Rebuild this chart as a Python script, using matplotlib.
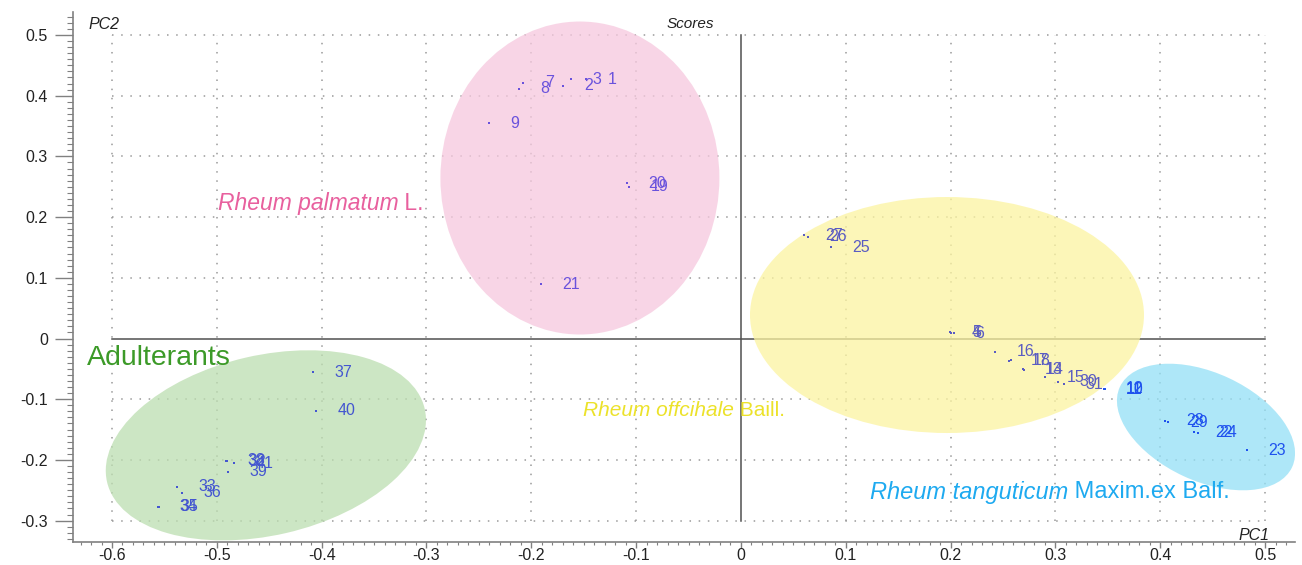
import numpy as np
import matplotlib
matplotlib.use("Agg")
import matplotlib.pyplot as plt
from matplotlib.patches import Ellipse
from matplotlib.transforms import ScaledTranslation
from matplotlib.ticker import MultipleLocator

plt.rcParams['font.family'] = ['Liberation Sans', 'DejaVu Sans']

# ---------------- data ----------------
palmatum_ids = ["1", "2", "3", "7", "8", "9", "19", "20", "21"]
palmatum_pc1 = [-0.148, -0.170, -0.1625, -0.2077, -0.2118, -0.2402, -0.1066, -0.109, -0.1911]
palmatum_pc2 = [0.427, 0.416, 0.4275, 0.4214, 0.4115, 0.3545, 0.250, 0.2557, 0.0893]

officinale_ids = ["4", "5", "6", "13", "14", "15", "16", "17", "18", "25", "26", "27", "30", "31"]
officinale_pc1 = [0.1995, 0.2005, 0.2030, 0.2694, 0.2700, 0.2901, 0.2424, 0.2560, 0.2575,
                  0.0859, 0.0642, 0.0601, 0.3028, 0.3085]
officinale_pc2 = [0.0099, 0.0094, 0.0087, -0.0507, -0.0515, -0.0639, -0.0217, -0.0366, -0.0358,
                  0.1502, 0.1677, 0.1705, -0.0712, -0.0750]

tanguticum_ids = ["10", "11", "12", "22", "23", "24", "28", "29"]
tanguticum_pc1 = [0.3464, 0.3466, 0.3470, 0.4323, 0.4825, 0.4361, 0.4046, 0.4078]
tanguticum_pc2 = [-0.0832, -0.0834, -0.0830, -0.1545, -0.1837, -0.1552, -0.1354, -0.1381]

adulterant_ids = ["32", "33", "34", "35", "36", "37", "38", "39", "40", "41"]
adulterant_pc1 = [-0.4905, -0.5379, -0.5560, -0.5550, -0.5334, -0.4081, -0.4917, -0.4898, -0.4055, -0.4838]
adulterant_pc2 = [-0.2025, -0.2446, -0.2771, -0.2775, -0.2540, -0.0552, -0.2018, -0.2199, -0.1194, -0.2056]

x_ticks = [-0.6, -0.5, -0.4, -0.3, -0.2, -0.1, 0, 0.1, 0.2, 0.3, 0.4, 0.5]
x_ticklabels = ["-0.6", "-0.5", "-0.4", "-0.3", "-0.2", "-0.1", "0", "0.1", "0.2", "0.3", "0.4", "0.5"]
y_ticks = [-0.3, -0.2, -0.1, 0, 0.1, 0.2, 0.3, 0.4, 0.5]
y_ticklabels = ["-0.3", "-0.2", "-0.1", "0", "0.1", "0.2", "0.3", "0.4", "0.5"]

# ---------------- figure ----------------
fig = plt.figure(figsize=(13.02, 5.65), dpi=100)
ax_bottom_px = 542
ax = fig.add_axes([73/1302, 1-ax_bottom_px/565, (1295-73)/1302, (ax_bottom_px-12)/565])
ax.set_xlim(-0.6372, 0.5286)
ax.set_ylim(-(ax_bottom_px-338.5)/607, 0.5379)

for s in ["top", "right"]:
    ax.spines[s].set_visible(False)
for s in ["left", "bottom"]:
    ax.spines[s].set_color("#808080")
    ax.spines[s].set_linewidth(1.2)

ax.set_xticks(x_ticks)
ax.set_xticklabels(x_ticklabels)
ax.set_yticks(y_ticks)
ax.set_yticklabels(y_ticklabels)
ax.xaxis.set_minor_locator(MultipleLocator(0.01))
ax.yaxis.set_minor_locator(MultipleLocator(0.01))
ax.tick_params(axis="x", which="major", length=4, width=1, color="#808080",
               labelsize=11.5, pad=0.5, labelcolor="#222222")
ax.tick_params(axis="x", which="minor", length=2, width=0.8, color="#808080")
ax.tick_params(axis="y", which="major", length=13, width=1, color="#808080",
               labelsize=11.5, pad=5, labelcolor="#222222")
ax.tick_params(axis="y", which="minor", length=4.3, width=0.8, color="#808080")

# dotted grid box
gx0, gx1, gy0, gy1 = -0.6, 0.5, -0.3, 0.5
for xv in x_ticks:
    if xv != 0:
        ax.plot([xv, xv], [gy0, gy1], color="#9a9a9a", lw=1.1, ls=(0, (1, 5)), zorder=1)
for yv in y_ticks:
    if yv != 0:
        ax.plot([gx0, gx1], [yv, yv], color="#9a9a9a", lw=1.1, ls=(0, (1, 5)), zorder=1)
ax.plot([0, 0], [gy0, gy1], color="#505050", lw=1.1, zorder=1.5)
ax.plot([gx0, gx1], [0, 0], color="#505050", lw=1.1, zorder=1.5)

# ellipses (sizes in pixels, translucent overlays)
def add_ellipse(cx, cy, w_px, h_px, angle, color, alpha):
    tr = fig.dpi_scale_trans + ScaledTranslation(cx, cy, ax.transData)
    e = Ellipse((0, 0), w_px / fig.dpi, h_px / fig.dpi, angle=angle,
                transform=tr, facecolor=color, edgecolor="none", alpha=alpha, zorder=2)
    ax.add_patch(e)

add_ellipse(-0.1536, 0.2644, 279, 313, 0, "#f6c8de", 0.75)
add_ellipse(0.1966, 0.0387, 394, 236, 0, "#fcf4a0", 0.75)
add_ellipse(0.4437, -0.1458, 190, 108, -25, "#93e0f6", 0.75)
add_ellipse(-0.4532, -0.1760, 326, 180, 13, "#bcdeb0", 0.75)

# points and labels
groups = [
    (palmatum_ids, palmatum_pc1, palmatum_pc2, "#6a52dc"),
    (officinale_ids, officinale_pc1, officinale_pc2, "#5a5cc2"),
    (tanguticum_ids, tanguticum_pc1, tanguticum_pc2, "#1f52ee"),
    (adulterant_ids, adulterant_pc1, adulterant_pc2, "#4456d0"),
]
for ids, xs, ys, col in groups:
    ax.scatter(xs, ys, s=4, color=col, marker="s", linewidths=0, zorder=3)
    for lab, xv, yv in zip(ids, xs, ys):
        ax.annotate(lab, (xv, yv), xytext=(15.5, 0), textcoords="offset points",
                    ha="left", va="center", fontsize=11.5, color=col, zorder=4)

# group labels
t = ax.text(-0.499, 0.2216, "Rheum palmatum", style="italic", fontsize=16.5, color="#e8609e",
            ha="left", va="center", zorder=5)
ax.annotate(" L.", (1, 0.5), xycoords=t, ha="left", va="center",
            fontsize=16.5, color="#e8609e", zorder=5)
ax.text(-0.624, -0.032, "Adulterants", fontsize=20.5, color="#3c9a28", ha="left", va="center", zorder=5)
t = ax.text(-0.1508, -0.1178, "Rheum offcihale", style="italic", fontsize=15, color="#ece22a",
            ha="left", va="center", zorder=5)
ax.annotate(" Baill.", (1, 0.5), xycoords=t, ha="left", va="center",
            fontsize=15, color="#ece22a", zorder=5)
t = ax.text(0.1231, -0.2529, "Rheum tanguticum", style="italic", fontsize=17, color="#1eaaf0",
            ha="left", va="center", zorder=5)
ax.annotate(" Maxim.ex Balf.", (1, 0.5), xycoords=t, ha="left", va="center",
            fontsize=17, color="#1eaaf0", zorder=5)

# axis titles
ax.text(0.013, 0.977, "PC2", transform=ax.transAxes, style="italic", fontsize=11.5,
        color="#222222", ha="left", va="center")
ax.text(0.5049, 0.977, "Scores", transform=ax.transAxes, style="italic", fontsize=11,
        color="#222222", ha="center", va="center")
ax.text(0.9795, 0.012, "PC1", transform=ax.transAxes, style="italic", fontsize=11.5,
        color="#222222", ha="right", va="center")

fig.savefig("out.png", dpi=100)
